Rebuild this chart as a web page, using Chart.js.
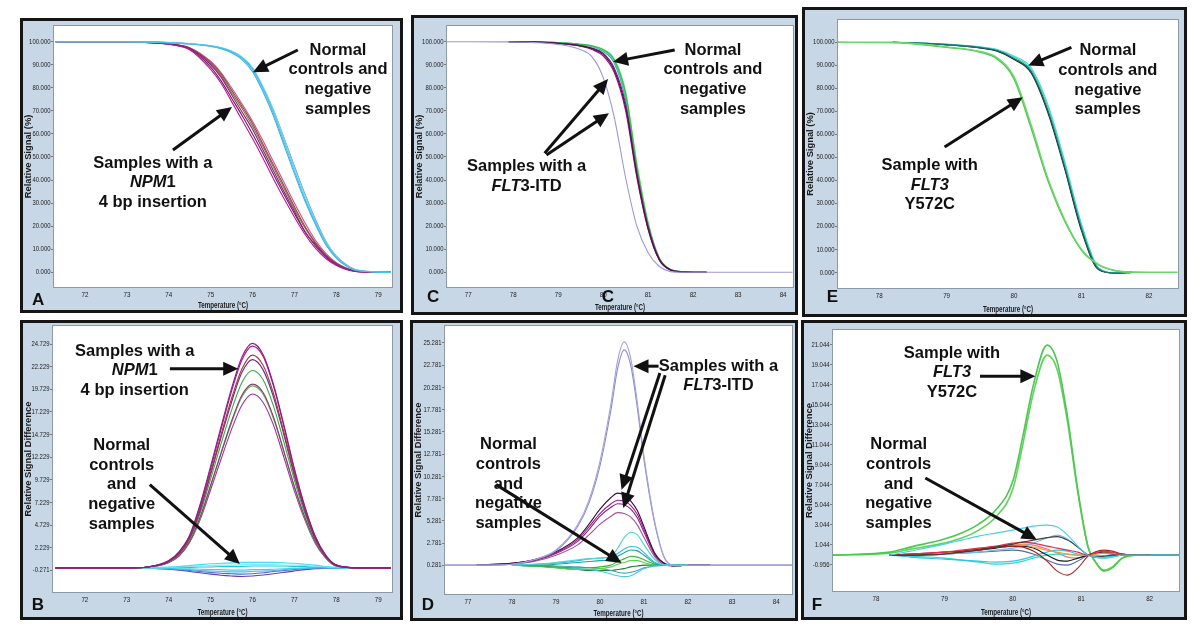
<!DOCTYPE html>
<html>
<head>
<meta charset="utf-8">
<script src="https://cdn.jsdelivr.net/npm/chart.js@4.4.1/dist/chart.umd.min.js"></script>
<style>
  body { margin: 0; background: #fff; width: 1200px; height: 638px; position: relative; overflow: hidden; }
  .panel { position: absolute; box-sizing: border-box; border: 3px solid #151515; background: #c8d7e6; }
  .panel canvas { position: absolute; left: 0; top: 0; }
</style>
</head>
<body>
<script>
// ---- A: melting curves, NPM1 assay ----
const tempA = [71.3, 72, 73, 73.5, 74, 74.5, 75, 75.25, 75.5, 75.75, 76, 76.25, 76.5, 76.75, 77, 77.25, 77.5, 77.75, 78, 78.25, 78.5, 79.3];
const controlsA = [
  [100, 100, 100, 99.9, 99.6, 99.1, 98.1, 97.2, 95.6, 92.8, 88, 79.5, 69, 56.5, 44, 32, 21.5, 12.5, 6.5, 2.8, 0.8, 0],
  [100, 100, 100, 99.9, 99.6, 99.2, 98.3, 97.5, 96, 93.4, 88.8, 80.5, 70.5, 58, 45.5, 33.5, 22.5, 13.2, 7, 3, 0.9, 0],
  [100, 100, 100, 99.9, 99.5, 99, 97.9, 96.9, 95.2, 92.2, 87, 78.3, 67.8, 55.2, 42.8, 31, 20.8, 12, 6.2, 2.6, 0.7, 0],
  [100, 100, 100, 99.9, 99.6, 99.1, 98.2, 97.4, 95.8, 93.1, 88.5, 80.2, 70.2, 58.3, 46, 34, 23, 13.5, 7, 3.2, 1, 0]
];
const npmA = [
  [100, 100, 100, 99.7, 99, 97, 90, 84.5, 77, 69.5, 62, 53, 44, 35, 26.5, 17.5, 12, 7, 3.5, 1.4, 0.4, 0],
  [100, 100, 100, 99.6, 98.9, 96.5, 88, 82, 74, 66, 58, 49.5, 40.5, 32, 24, 16.5, 10.5, 6, 3, 1.1, 0.3, 0],
  [100, 100, 100, 99.7, 99.1, 97.3, 91, 86, 79, 72, 64.5, 55.5, 46.5, 37.5, 28.5, 20, 13, 7.6, 3.9, 1.6, 0.5, 0],
  [100, 100, 100, 99.7, 99, 97.1, 90.5, 85.3, 78, 71, 63.3, 54.5, 45.5, 36.5, 27.5, 19.3, 12.5, 7.3, 3.7, 1.5, 0.4, 0],
  [100, 100, 100, 99.6, 98.9, 96.8, 89, 83, 75.5, 68, 60, 51.5, 42.5, 33.8, 25.5, 17.8, 11.4, 6.6, 3.2, 1.3, 0.3, 0],
  [100, 100, 100, 99.7, 99.1, 97.4, 91.5, 86.5, 80, 73, 65.5, 57, 48, 39, 30, 21.5, 14, 8.2, 4.2, 1.8, 0.5, 0]
];

// ---- B: difference plot, NPM1 assay ----
const tempB = [71.3, 72, 73, 73.5, 74, 74.25, 74.5, 74.75, 75, 75.25, 75.5, 75.75, 76, 76.25, 76.5, 76.75, 77, 77.25, 77.5, 77.75, 78, 78.5, 79, 79.3];
const npmB = [
  [0, 0, 0, 0.1, 0.8, 1.8, 3.6, 7, 11.2, 15.6, 19.8, 23.3, 24.8, 23.6, 20.3, 15.8, 11, 6.8, 3.5, 1.4, 0.3, 0, 0, 0],
  [0, 0, 0, 0.1, 0.7, 1.7, 3.5, 6.8, 10.9, 15.3, 19.5, 23, 24.5, 23.4, 20.1, 15.6, 10.8, 6.7, 3.4, 1.3, 0.3, 0, 0, 0],
  [0, 0, 0, 0.1, 0.7, 1.6, 3.3, 6.5, 10.5, 14.7, 18.7, 22, 23.5, 22.4, 19.3, 15, 10.4, 6.4, 3.3, 1.3, 0.3, 0, 0, 0],
  [0, 0, 0, 0.1, 0.7, 1.6, 3.3, 6.3, 10.3, 14.4, 18.3, 21.6, 23, 21.9, 18.9, 14.7, 10.2, 6.3, 3.2, 1.3, 0.3, 0, 0, 0],
  [0, 0, 0, 0.1, 0.6, 1.5, 3.1, 6, 9.8, 13.7, 17.4, 20.5, 21.8, 20.8, 17.9, 13.9, 9.7, 6, 3.1, 1.2, 0.3, 0, 0, 0],
  [0, 0, 0, 0.1, 0.6, 1.4, 2.9, 5.6, 9.1, 12.7, 16.2, 19.1, 20.3, 19.4, 16.7, 12.9, 9, 5.6, 2.9, 1.1, 0.2, 0, 0, 0],
  [0, 0, 0, 0.1, 0.6, 1.4, 2.9, 5.5, 9, 12.6, 16, 18.9, 20.1, 19.2, 16.5, 12.8, 8.9, 5.5, 2.8, 1.1, 0.2, 0, 0, 0],
  [0, 0, 0, 0.1, 0.6, 1.3, 2.8, 5.3, 8.6, 12, 15.3, 18, 19.2, 18.3, 15.8, 12.2, 8.5, 5.3, 2.7, 1.1, 0.2, 0, 0, 0]
];
const controlsB = [
  [0, 0, 0, 0.05, 0.1, 0.15, 0.25, 0.35, 0.45, 0.5, 0.55, 0.6, 0.6, 0.6, 0.6, 0.55, 0.5, 0.4, 0.3, 0.15, 0.05, 0, 0, 0],
  [0, 0, 0, 0, 0.05, 0.1, 0.15, 0.2, 0.25, 0.3, 0.3, 0.35, 0.35, 0.35, 0.35, 0.3, 0.3, 0.25, 0.2, 0.1, 0.05, 0, 0, 0],
  [0, 0, 0, 0, 0, 0.05, 0.05, 0.1, 0.1, 0.15, 0.15, 0.15, 0.2, 0.2, 0.2, 0.2, 0.15, 0.15, 0.1, 0.05, 0, 0, 0, 0],
  [0, 0, 0, 0, -0.05, -0.1, -0.1, -0.15, -0.2, -0.2, -0.25, -0.25, -0.2, -0.2, -0.15, -0.1, -0.05, 0, 0.05, 0.05, 0, 0, 0, 0],
  [0, 0, 0, -0.05, -0.1, -0.15, -0.2, -0.3, -0.35, -0.4, -0.45, -0.45, -0.4, -0.35, -0.3, -0.2, -0.1, -0.05, 0, 0, 0, 0, 0, 0],
  [0, 0, 0, -0.05, -0.1, -0.2, -0.3, -0.4, -0.5, -0.6, -0.65, -0.7, -0.65, -0.55, -0.4, -0.3, -0.2, -0.1, -0.05, 0, 0, 0, 0, 0],
  [0, 0, 0, -0.05, -0.15, -0.25, -0.4, -0.55, -0.7, -0.82, -0.9, -0.95, -0.9, -0.8, -0.65, -0.5, -0.35, -0.2, -0.1, -0.05, 0, 0, 0, 0]
];

// ---- C: melting curves, FLT3-ITD assay ----
const tempC = [76.53, 77, 77.9, 78.5, 79, 79.5, 79.75, 80, 80.25, 80.5, 80.75, 81, 81.25, 81.5, 81.75, 82, 82.3, 83, 84.21];
const controlsC = [
  [null, null, 100, 99.9, 99.6, 98.9, 98.2, 96.5, 92, 77.5, 46, 21, 6, 1.2, 0.3, 0, 0, null, null],
  [null, null, 100, 99.9, 99.6, 98.8, 98, 96.1, 91.2, 76, 44.5, 20, 5.6, 1.1, 0.3, 0, 0, null, null],
  [null, null, 100, 99.9, 99.5, 98.7, 97.9, 95.8, 90.6, 75, 43, 19.2, 5.3, 1, 0.2, 0, 0, null, null],
  [null, null, 100, 99.9, 99.6, 98.9, 98.3, 96.7, 92.5, 78.5, 47.5, 22, 6.4, 1.3, 0.3, 0, 0, null, null]
];
const itdC = [
  [null, null, 100, 99.8, 99.3, 98.2, 97, 94.5, 87.5, 71.5, 42, 19, 5.5, 1, 0.2, 0, 0, null, null],
  [null, null, 100, 99.8, 99.2, 98, 96.6, 93.8, 86.5, 70, 41, 18.5, 5.2, 0.9, 0.2, 0, 0, null, null],
  [null, null, 100, 99.8, 99.3, 98.3, 97.2, 95, 88.5, 73, 43.5, 20, 5.8, 1.1, 0.2, 0, 0, null, null]
];
const bigItdC = [100, 100, 99.9, 99.6, 98.8, 96.5, 93.5, 84.5, 67, 41, 20, 8.5, 2.5, 0.3, 0, 0, 0, 0, 0];

// ---- D: difference plot, FLT3-ITD assay ----
const tempD = [76.48, 77.2, 78, 78.5, 79, 79.5, 79.75, 80, 80.25, 80.4, 80.55, 80.7, 80.85, 81, 81.25, 81.5, 81.75, 82, 82.5, 83, 84.36];
const bigItdD = [
  [0.3, 0.3, 0.4, 0.9, 2, 4.9, 7.6, 12, 18.5, 23.3, 25.4, 23.5, 18.5, 12.5, 5, 0.8, 0.2, 0.3, 0.3, 0.3, 0.3],
  [0.3, 0.3, 0.4, 0.9, 1.9, 4.7, 7.3, 11.5, 17.8, 22.4, 24.5, 22.7, 17.9, 12.1, 4.8, 0.8, 0.2, 0.3, 0.3, 0.3, 0.3]
];
const itdD = [
  [null, 0.3, 0.5, 0.9, 1.8, 3.4, 4.9, 6.6, 7.9, 8.4, 8.2, 7.5, 6.4, 4.6, 1.6, 0.4, 0.2, 0.3, 0.3, null, null],
  [null, 0.3, 0.5, 0.9, 1.7, 3.2, 4.6, 6.1, 7.2, 7.6, 7.5, 7, 6, 4.3, 1.5, 0.4, 0.2, 0.3, 0.3, null, null],
  [null, 0.3, 0.5, 0.8, 1.6, 3, 4.3, 5.8, 6.8, 7.2, 7.1, 6.6, 5.6, 4, 1.4, 0.4, 0.2, 0.3, 0.3, null, null],
  [null, 0.3, 0.4, 0.7, 1.4, 2.6, 3.7, 4.9, 5.8, 6.2, 6.1, 5.7, 4.8, 3.4, 1.2, 0.3, 0.2, 0.3, 0.3, null, null]
];
const controlsD = [
  [null, null, 0.3, 0.4, 0.6, 0.9, 1, 1.1, 1.3, 2.2, 3.4, 4, 3.7, 2.6, 0.9, 0.3, 0.3, 0.3, null, null, null],
  [null, null, 0.3, 0.4, 0.5, 0.8, 1, 1.1, 1.2, 1.6, 2.1, 2.4, 2.3, 1.7, 0.6, 0.3, 0.3, 0.3, null, null, null],
  [null, null, 0.3, 0.3, 0.4, 0.6, 0.7, 0.8, 0.9, 1.3, 1.7, 2, 1.9, 1.4, 0.5, 0.3, 0.3, 0.3, null, null, null],
  [null, null, 0.3, 0.2, 0.1, 0, 0, 0.1, 0.3, 0.7, 1, 1.3, 1.2, 0.9, 0.4, 0.3, 0.3, 0.3, null, null, null],
  [null, null, 0.3, 0.2, 0, -0.2, -0.2, -0.1, 0.1, 0.4, 0.6, 0.8, 0.8, 0.6, 0.3, 0.3, 0.3, 0.3, null, null, null],
  [null, null, 0.3, 0.2, 0.1, -0.1, -0.2, -0.4, -0.7, -0.9, -1, -0.9, -0.5, -0.1, 0.2, 0.3, 0.3, 0.3, null, null, null],
  [null, null, 0.3, 0.3, 0.2, 0.1, 0, -0.1, -0.3, -0.5, -0.6, -0.5, -0.3, 0, 0.2, 0.3, 0.3, 0.3, null, null, null],
  [null, null, 0.3, 0.2, 0, -0.2, -0.3, -0.3, -0.3, -0.2, -0.1, 0.1, 0.2, 0.3, 0.3, 0.3, 0.3, 0.3, null, null, null]
];

// ---- E: melting curves, FLT3 Y572C ----
const tempE = [77.39, 78.2, 78.5, 79, 79.5, 79.75, 80, 80.25, 80.5, 80.75, 81, 81.25, 81.5, 81.75, 82.42];
const controlsE = [
  [null, 100, 99.8, 99, 97.7, 96.4, 93, 87.5, 70.5, 46, 19, 1.5, -0.3, 0, null],
  [null, 100, 99.8, 99.1, 97.9, 96.7, 93.6, 88.3, 72, 47.5, 20.3, 1.9, -0.2, 0, null],
  [null, 100, 99.7, 98.9, 97.5, 96.1, 92.5, 86.8, 69.5, 45, 18, 1.2, -0.4, 0, null],
  [null, 100, 99.8, 99, 97.6, 96.3, 92.8, 87.2, 70.2, 45.5, 18.5, 1.4, -0.3, 0, null],
  [null, 100, 99.9, 99.2, 98, 96.9, 94, 89, 73, 48.5, 21, 2.1, -0.2, 0, null]
];
const y572E = [
  [100, 99.9, 99.5, 98, 96, 93.3, 85, 64.5, 41, 23, 10, 3.5, 0.8, 0.1, 0],
  [100, 99.9, 99.4, 97.8, 95.7, 92.8, 84, 63, 40, 22.3, 9.6, 3.3, 0.7, 0.1, 0]
];

// ---- F: difference plot, FLT3 Y572C ----
const tempF = [77.37, 78.2, 78.5, 79, 79.25, 79.5, 79.75, 80, 80.15, 80.3, 80.5, 80.65, 80.8, 80.95, 81.1, 81.2, 81.33, 81.45, 81.6, 81.8, 82, 82.43];
const y572F = [
  [0, 0.3, 0.8, 1.6, 2.2, 3.1, 4.5, 7.4, 12, 17, 21, 19.3, 13.8, 6.5, 0.8, -0.6, -1.6, -1.3, -0.3, 0, 0, 0],
  [0, 0.2, 0.6, 1.2, 1.7, 2.5, 3.8, 6.6, 11.2, 16.2, 20, 18.5, 13.3, 6.3, 0.8, -0.6, -1.5, -1.2, -0.3, 0, 0, 0]
];
const controlsF = [
  [null, 0, 0.4, 1.1, 1.5, 1.9, 2.2, 2.5, 2.7, 2.9, 3, 2.8, 2, 0.9, 0, -0.2, -0.3, -0.2, 0, 0, 0, 0],
  [null, 0, 0, 0.1, 0.3, 0.5, 0.8, 1.1, 1.3, 1.5, 1.75, 1.85, 1.5, 0.8, 0, -0.2, -0.1, 0, 0, 0, 0, 0],
  [null, 0, 0.1, 0.3, 0.5, 0.7, 0.9, 1.2, 1.3, 1.2, 0.9, 0.7, 0.5, 0.3, 0, 0.2, 0.4, 0.3, 0.1, 0, 0, null],
  [null, 0, 0.1, 0.3, 0.4, 0.6, 0.8, 0.9, 0.8, 0.4, -0.6, -1.6, -2, -1.3, -0.1, 0.3, 0.5, 0.4, 0.1, 0, 0, null],
  [null, 0, 0.1, 0.2, 0.4, 0.6, 0.8, 1, 1, 0.8, 0.5, 0.3, 0.1, 0, 0, 0.1, 0.2, 0.2, 0, 0, 0, null],
  [null, 0, 0, 0.2, 0.3, 0.5, 0.7, 0.9, 0.9, 0.7, 0, -0.5, -0.6, -0.3, 0, 0.2, 0.3, 0.2, 0.1, 0, 0, null],
  [null, 0, -0.2, -0.4, -0.5, -0.6, -0.7, -0.6, -0.4, -0.1, 0.3, 0.5, 0.4, 0.1, 0, -0.1, -0.2, -0.1, 0, 0, 0, 0],
  [null, 0, -0.1, -0.3, -0.5, -0.7, -0.9, -0.8, -0.6, -0.3, 0, 0.1, 0.1, 0, 0, 0, -0.1, -0.1, 0, 0, 0, 0],
  [null, 0, 0, 0.1, 0.2, 0.3, 0.5, 0.7, 0.9, 1.2, 1.7, 2, 1.6, 0.8, 0, -0.2, -0.3, -0.2, 0, 0, 0, 0],
  [null, 0, 0.1, 0.3, 0.4, 0.6, 0.8, 1, 1.1, 1, 0.6, 0.2, -0.2, -0.3, 0, 0.2, 0.3, 0.2, 0, 0, 0, null],
  [null, 0, 0, 0.1, 0.2, 0.3, 0.4, 0.5, 0.4, 0.1, -0.5, -0.9, -1, -0.6, 0, 0.1, 0.2, 0.1, 0, 0, 0, null]
];

// tick labels
const ticksPct = [0, 10, 20, 30, 40, 50, 60, 70, 80, 90, 100];
const ticksDiffB = [-0.271, 2.229, 4.729, 7.229, 9.729, 12.229, 14.729, 17.229, 19.729, 22.229, 24.729];
const ticksDiffD = [0.281, 2.781, 5.281, 7.781, 10.281, 12.781, 15.281, 17.781, 20.281, 22.781, 25.281];
const ticksDiffF = [-0.956, 1.044, 3.044, 5.044, 7.044, 9.044, 11.044, 13.044, 15.044, 17.044, 19.044, 21.044];
const ticksTempAB = [72, 73, 74, 75, 76, 77, 78, 79];
const ticksTempCD = [77, 78, 79, 80, 81, 82, 83, 84];
const ticksTempEF = [78, 79, 80, 81, 82];

// colours
const ctrlColorsA = ['#35c8e8', '#6fd6f0', '#4aa8e0', '#7b7bd6'];
const npmColorsA = ['#8a1f8a', '#c2148e', '#8b4a3c', '#7d7a36', '#6b1c5e', '#d9488f'];
const npmColorsB = ['#8e1a8e', '#b0157f', '#9c3a3a', '#6a2a8a', '#3aa84a', '#8a3a6a', '#5cb85c', '#a0309a'];
const ctrlColorsB = ['#3fe0f0', '#8ae8f4', '#22c4dc', '#40d0e8', '#5fb4ea', '#4a6ad8', '#6a3aa8'];
const ctrlColorsC = ['#2fbf3a', '#40d8d0', '#1f9f80', '#72e06a'];
const itdColorsC = ['#4a1050', '#b0128c', '#802080'];
const itdColorsD = ['#3a0f3a', '#b0128a', '#7a2a8a', '#a4509e'];
const ctrlColorsD = ['#46d6d6', '#2fbfe0', '#1f9fa0', '#2fb52f', '#5ccf4c', '#4fc6e0', '#3aa8b8', '#1f7a3a'];
const ctrlColorsE = ['#1c6a66', '#38d4d4', '#2a2a2a', '#1f9a4a', '#44e0c4'];
const ctrlColorsF = ['#49d0e4', '#4a3a36', '#e2304a', '#a81e22', '#f0a030', '#1e1e1e', '#2ec6e2', '#22dccc', '#66c0ea', '#f07090', '#5a6aa0'];

const SANS = "'Liberation Sans',Arial,Helvetica,sans-serif";
const NORMAL4 = ['Normal', 'controls and', 'negative', 'samples'];
const NORMAL5 = ['Normal', 'controls', 'and', 'negative', 'samples'];

function line(xs, ys, color, width) {
  return {
    data: xs.map((x, i) => ({ x: x, y: ys[i] })),
    borderColor: color,
    borderWidth: width || 1.1,
    pointRadius: 0,
    fill: false,
    cubicInterpolationMode: 'monotone'
  };
}
function group(xs, rows, colors, width) {
  return rows.map((r, i) => line(xs, r, colors[i % colors.length], width));
}

const panels = [
  { box: [20, 18, 403, 313], plot: [54, 26, 392, 287], xr: [71.26, 79.33], yr: [-6.37, 106.8],
    xt: ticksTempAB, yt: ticksPct, yTitle: 'Relative Signal (%)',
    sets: [...group(tempA, controlsA, ctrlColorsA), ...group(tempA, npmA, npmColorsA)],
    texts: [{ x: 78.04, y: 96.4, lines: NORMAL4 }, { x: 73.62, y: 47.4, lines: ['Samples with a', '_NPM_1', '4 bp insertion'] }],
    arrows: [[77.08, 96.4, 76.01, 86.8], [74.10, 53.0, 75.51, 71.7]],
    letters: [['A', 32, 305]] },
  { box: [20, 320, 403, 620], plot: [53, 326, 392, 592], xr: [71.24, 79.33], yr: [-2.67, 26.72],
    xt: ticksTempAB, yt: ticksDiffB, yTitle: 'Relative Signal Difference',
    sets: [...group(tempB, npmB, npmColorsB), ...group(tempB, controlsB, ctrlColorsB)],
    texts: [{ x: 73.19, y: 23.93, lines: ['Samples with a', '_NPM_1', '4 bp insertion'] }, { x: 72.88, y: 13.54, lines: NORMAL5 }],
    arrows: [[74.03, 22.0, 75.66, 22.0], [73.55, 9.19, 75.70, 0.43]],
    letters: [['B', 31.7, 609.7]] },
  { box: [411, 15, 798, 315], plot: [447, 26, 793, 287], xr: [76.53, 84.22], yr: [-6.37, 106.8],
    xt: ticksTempCD, yt: ticksPct, yTitle: 'Relative Signal (%)',
    sets: [line(tempC, bigItdC, '#9a98d8'), ...group(tempC, itdC, itdColorsC), ...group(tempC, controlsC, ctrlColorsC)],
    texts: [{ x: 82.44, y: 96.4, lines: NORMAL4 }, { x: 78.30, y: 45.8, lines: ['Samples with a', '_FLT_3-ITD'] }],
    arrows: [[81.59, 96.4, 80.22, 91.3], [78.70, 51.6, 80.11, 83.8], [78.74, 50.9, 80.13, 69.0]],
    letters: [['C', 427, 301.5], ['C', 601.7, 301.5]] },
  { box: [410, 320, 798, 621], plot: [445, 326, 792, 594], xr: [76.48, 84.36], yr: [-2.95, 27.19],
    xt: ticksTempCD, yt: ticksDiffD, yTitle: 'Relative Signal Difference',
    sets: [...group(tempD, bigItdD, ['#a4a2dc', '#8c8ac8']), ...group(tempD, controlsD, ctrlColorsD), ...group(tempD, itdD, itdColorsD)],
    texts: [{ x: 82.69, y: 22.67, lines: ['Samples with a', '_FLT_3-ITD'] }, { x: 77.92, y: 13.85, lines: NORMAL5 }],
    arrows: [[81.33, 22.67, 80.76, 22.67], [81.36, 21.91, 80.49, 8.78], [81.48, 21.65, 80.53, 6.73], [77.64, 9.35, 80.49, 0.54]],
    letters: [['D', 421.7, 609.7]] },
  { box: [802, 7, 1187, 317], plot: [838, 20, 1178, 288], xr: [77.39, 82.43], yr: [-6.8, 109.7],
    xt: ticksTempEF, yt: ticksPct, yTitle: 'Relative Signal (%)',
    sets: [...group(tempE, y572E, ['#6ad86a', '#4cc44c'], 1.4), ...group(tempE, controlsE, ctrlColorsE)],
    texts: [{ x: 81.39, y: 96.4, lines: NORMAL4 }, { x: 78.75, y: 46.5, lines: ['Sample with', '_FLT3_', 'Y572C'] }],
    arrows: [[80.85, 97.8, 80.21, 89.9], [78.97, 54.5, 80.13, 76.1]],
    letters: [['E', 826.7, 301.7]] },
  { box: [801, 320, 1187, 620], plot: [833, 330, 1179, 591], xr: [77.37, 82.43], yr: [-3.59, 22.51],
    xt: ticksTempEF, yt: ticksDiffF, yTitle: 'Relative Signal Difference',
    sets: [...group(tempF, controlsF, ctrlColorsF), ...group(tempF, y572F, ['#4cc84c', '#62d062'], 1.6)],
    texts: [{ x: 79.11, y: 20.21, lines: ['Sample with', '_FLT3_', 'Y572C'] }, { x: 78.33, y: 11.04, lines: NORMAL5 }],
    arrows: [[79.52, 17.88, 80.33, 17.88], [78.72, 7.71, 80.35, 1.54]],
    letters: [['F', 811.7, 609.7]] }
];

function drawArrow(ctx, x1, y1, x2, y2) {
  const a = Math.atan2(y2 - y1, x2 - x1), L = 15, W = 7;
  const bx = x2 - L * Math.cos(a), by = y2 - L * Math.sin(a);
  ctx.lineWidth = 3;
  ctx.beginPath(); ctx.moveTo(x1, y1); ctx.lineTo(bx + Math.cos(a), by + Math.sin(a)); ctx.stroke();
  ctx.beginPath();
  ctx.moveTo(x2, y2);
  ctx.lineTo(bx + W * Math.sin(a), by - W * Math.cos(a));
  ctx.lineTo(bx - W * Math.sin(a), by + W * Math.cos(a));
  ctx.closePath(); ctx.fill();
}

// text between underscores is italic
function drawText(ctx, cx, cy, lines, lh) {
  ctx.textBaseline = 'middle';
  ctx.textAlign = 'left';
  lines.forEach((s, i) => {
    const segs = s.split('_').map((t, k) => ({ t: t, it: k % 2 === 1 })).filter(g => g.t);
    const font = g => (g.it ? 'italic ' : '') + 'bold 16.5px ' + SANS;
    let w = 0;
    segs.forEach(g => { ctx.font = font(g); w += ctx.measureText(g.t).width; });
    let x = cx - w / 2;
    segs.forEach(g => { ctx.font = font(g); ctx.fillText(g.t, x, cy + i * lh); x += ctx.measureText(g.t).width; });
  });
}

// narrow text: squeeze horizontally around the anchor
function squeezed(ctx, text, x, y, align, sx, rot) {
  ctx.save();
  ctx.translate(x, y);
  if (rot) ctx.rotate(rot);
  ctx.scale(sx, 1);
  ctx.textAlign = align;
  ctx.fillText(text, 0, 0);
  ctx.restore();
}

function build(p) {
  const [L, T, R, B] = p.box;
  const il = L + 3, it = T + 3, iw = R - L - 6, ih = B - T - 6;
  const [pl, pt, pr, pb] = p.plot;
  const div = document.createElement('div');
  div.className = 'panel';
  Object.assign(div.style, { left: L + 'px', top: T + 'px', width: (R - L) + 'px', height: (B - T) + 'px' });
  const cv = document.createElement('canvas');
  cv.width = iw; cv.height = ih;
  div.appendChild(cv);
  document.body.appendChild(div);

  const plotFrame = {
    id: 'plotFrame',
    beforeDraw(c) {
      const a = c.chartArea, ctx = c.ctx;
      ctx.save(); ctx.fillStyle = '#fff';
      ctx.fillRect(a.left, a.top, a.right - a.left, a.bottom - a.top);
      ctx.restore();
    },
    afterDatasetsDraw(c) {
      const a = c.chartArea, ctx = c.ctx;
      ctx.save(); ctx.strokeStyle = '#8d99a6'; ctx.lineWidth = 1;
      ctx.strokeRect(a.left - 0.5, a.top - 0.5, a.right - a.left + 1, a.bottom - a.top + 1);
      ctx.restore();
    }
  };
  const axisText = {
    id: 'axisText',
    afterDraw(c) {
      const ctx = c.ctx, a = c.chartArea, xs = c.scales.x, ys = c.scales.y;
      ctx.save();
      ctx.fillStyle = '#222';
      ctx.textBaseline = 'middle';
      ctx.font = '7.8px ' + SANS;
      ys.ticks.forEach(t => squeezed(ctx, t.value.toFixed(3), a.left - 3.5, ys.getPixelForValue(t.value), 'right', 0.76));
      xs.ticks.forEach(t => squeezed(ctx, String(t.value), xs.getPixelForValue(t.value), a.bottom + 8, 'center', 0.8));
      ctx.fillStyle = '#1a1a1a';
      ctx.font = 'bold 8.2px ' + SANS;
      squeezed(ctx, 'Temperature (°C)', (a.left + a.right) / 2, c.height - 4.5, 'center', 0.76);
      ctx.font = 'bold 8.5px ' + SANS;
      squeezed(ctx, p.yTitle, 6, (a.top + a.bottom) / 2, 'center', 1.1, -Math.PI / 2);
      ctx.restore();
    }
  };
  const notes = {
    id: 'notes',
    afterDraw(c) {
      const ctx = c.ctx, xs = c.scales.x, ys = c.scales.y;
      ctx.save();
      ctx.fillStyle = '#111'; ctx.strokeStyle = '#111';
      p.arrows.forEach(a => drawArrow(ctx, xs.getPixelForValue(a[0]), ys.getPixelForValue(a[1]),
                                         xs.getPixelForValue(a[2]), ys.getPixelForValue(a[3])));
      p.texts.forEach(t => drawText(ctx, xs.getPixelForValue(t.x), ys.getPixelForValue(t.y), t.lines, 19.7));
      ctx.font = 'bold 17px ' + SANS;
      ctx.textAlign = 'left'; ctx.textBaseline = 'alphabetic';
      p.letters.forEach(l => ctx.fillText(l[0], l[1] - il, l[2] - it));
      ctx.restore();
    }
  };

  new Chart(cv, {
    type: 'line',
    data: { datasets: p.sets },
    options: {
      responsive: false,
      animation: false,
      events: [],
      layout: { padding: { left: 0, top: pt - it, right: (il + iw) - pr, bottom: 0 } },
      plugins: { legend: { display: false }, tooltip: { enabled: false } },
      scales: {
        x: {
          type: 'linear', min: p.xr[0], max: p.xr[1],
          afterBuildTicks: s => { s.ticks = p.xt.map(v => ({ value: v })); },
          afterFit: s => { s.height = (it + ih) - pb; },
          grid: { display: false, drawTicks: false },
          border: { display: false },
          ticks: { display: false },
          title: { display: false }
        },
        y: {
          type: 'linear', min: p.yr[0], max: p.yr[1],
          afterBuildTicks: s => { s.ticks = p.yt.map(v => ({ value: v })); },
          afterFit: s => { s.width = pl - il; },
          grid: { drawOnChartArea: false, drawTicks: true, tickLength: 3, color: '#7a7a7a' },
          border: { display: false },
          ticks: { display: false },
          title: { display: false }
        }
      }
    },
    plugins: [plotFrame, axisText, notes]
  });
}

panels.forEach(build);
</script>
</body>
</html>
